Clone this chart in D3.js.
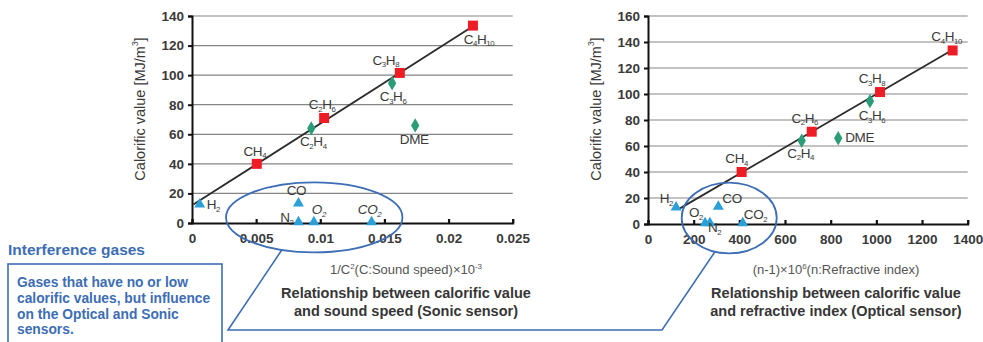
<!DOCTYPE html>
<html>
<head>
<meta charset="utf-8">
<script src="https://cdn.jsdelivr.net/npm/d3@7"></script>
<style>
  body { margin: 0; background: #fff; }
  svg { display: block; font-family: 'Liberation Sans', Arial, sans-serif; }
</style>
</head>
<body>
<svg id="chart" width="983" height="342"></svg>
<script>
// gases, in drawing order
const gasNames = ['CH4', 'C2H6', 'C3H8', 'C4H10', 'C2H4', 'C3H6', 'DME', 'H2', 'CO', 'N2', 'O2', 'CO2']
const gasKind = ['alkane', 'alkane', 'alkane', 'alkane', 'alkene', 'alkene', 'alkene', 'inert', 'inert', 'inert', 'inert', 'inert']
const calorificValue = [40, 71, 101.5, 133.5, 64, 94.5, 66, 12, 12.6, 0, 0, 0]
// 1/C^2 x 10^-3
const sonicX = [0.00505, 0.0103, 0.0162, 0.0219, 0.0093, 0.0156, 0.0174, 0.0006, 0.0083, 0.0083, 0.0095, 0.0140]
// (n-1) x 10^6
const opticalX = [410, 717, 1016, 1334, 673, 972, 833, 123, 308, 271, 250, 415]

const sonicFit = [[0.0001, 12.5], [0.0219, 133]]
const opticalFit = [[140, 12], [1334, 134]]

const sonicXTicks = [0, 0.005, 0.01, 0.015, 0.02, 0.025]
const sonicYTicks = [0, 20, 40, 60, 80, 100, 120, 140]
const opticalXTicks = [0, 200, 400, 600, 800, 1000, 1200, 1400]
const opticalYTicks = [0, 20, 40, 60, 80, 100, 120, 140, 160]

// interference-gas ellipses in data units: [cx, cy, rx, ry]
const sonicEllipse = [0.00953, 3.8, 0.006875, 23.7]
const opticalEllipse = [355.6, 4.6, 208, 27.2]

const boxTitle = 'Interference gases'
const boxLines = ['Gases that have no or low', 'calorific values, but influence', 'on the Optical and Sonic', 'sensors.']

const colors = { alkane: '#ee1c25', alkene: '#2a9d78', inert: '#2b9fd8' }
const blue = '#3d6db4'
const textCol = '#3a3a3a'
const labelSize = 13.5

const svg = d3.select('#chart')

// label placement: [dx, dy, anchor, italic]
const sonicLabelPos = {
  CH4: [-2, -12, 'middle'], C2H6: [-2, -13, 'middle'], C3H8: [-14, -12, 'middle'], C4H10: [6, 14, 'middle'],
  C2H4: [2, 14, 'middle'], C3H6: [1, 14, 'middle'], DME: [-1, 15, 'middle'], H2: [7, 0, 'start'],
  CO: [-2, -13, 'middle'], N2: [-5, -5, 'end'], O2: [-2, -13, 'start', true], CO2: [-2, -13, 'middle', true]
}
const opticalLabelPos = {
  CH4: [-5, -13, 'middle'], C2H6: [-7, -13, 'middle'], C3H8: [-8, -13, 'middle'], C4H10: [-6, -13, 'middle'],
  C2H4: [-1, 13, 'middle'], C3H6: [2, 15, 'middle'], DME: [7, 0, 'start'], H2: [-3, -9, 'end'],
  CO: [4, -9, 'start'], N2: [-2, 4, 'start'], O2: [-2, -11, 'end'], CO2: [1, -9, 'start']
}

function chemText(sel, name, size) {
  if (name === 'DME') { sel.text(name); return }
  let cur = 0
  name.match(/[A-Z][a-z]*|\d+/g).forEach(p => {
    const isNum = /\d/.test(p)
    const target = isNum ? 2.5 : 0
    sel.append('tspan').attr('font-size', isNum ? size * 0.58 : size).attr('dy', target - cur).text(p)
    cur = target
  })
}

function panel(cfg) {
  const x = d3.scaleLinear().domain(cfg.xDomain).range(cfg.xRange)
  const y = d3.scaleLinear().domain(cfg.yDomain).range(cfg.yRange)
  const g = svg.append('g')

  // gridlines
  g.append('g').selectAll('line').data(cfg.yTicks.filter(t => t > 0)).join('line')
    .attr('x1', cfg.xRange[0]).attr('x2', cfg.xRange[1])
    .attr('y1', d => y(d)).attr('y2', d => y(d))
    .attr('stroke', '#858585').attr('stroke-width', 1.2)

  // y axis
  const yAx = g.append('g').attr('transform', `translate(${cfg.xRange[0]},0)`)
    .call(d3.axisLeft(y).tickValues(cfg.yTicks).tickSize(4).tickPadding(4))
  yAx.attr('font-size', 13.5).attr('font-family', 'Liberation Sans, Arial, sans-serif')
  yAx.select('.domain').attr('stroke', '#111').attr('stroke-width', 2)
  yAx.selectAll('.tick line').attr('stroke', '#111').attr('stroke-width', 2)
  yAx.selectAll('text').attr('font-size', 13.5).attr('font-weight', 'bold').attr('fill', textCol)

  // x axis, ticks point up
  const xAx = g.append('g').attr('transform', `translate(0,${cfg.yRange[0]})`)
    .call(d3.axisBottom(x).tickValues(cfg.xTicks).tickSize(-4).tickPadding(10).tickFormat(cfg.xFormat))
  xAx.attr('font-size', 13.5).attr('font-family', 'Liberation Sans, Arial, sans-serif')
  xAx.select('.domain').attr('stroke', '#111').attr('stroke-width', 2)
  xAx.selectAll('.tick line').attr('stroke', '#111').attr('stroke-width', 2.2)
  xAx.selectAll('text').attr('font-size', 13.5).attr('font-weight', 'bold').attr('fill', textCol)

  // fit line
  g.append('line')
    .attr('x1', x(cfg.fit[0][0])).attr('y1', y(cfg.fit[0][1]))
    .attr('x2', x(cfg.fit[1][0])).attr('y2', y(cfg.fit[1][1]))
    .attr('stroke', '#2b2b2b').attr('stroke-width', 1.8)

  // markers
  const pts = gasNames.map((n, i) => ({ name: n, kind: gasKind[i], x: cfg.xs[i], y: calorificValue[i] }))
  const sym = { alkane: d3.symbolSquare, alkene: d3.symbolDiamond, inert: d3.symbolTriangle }
  const area = { alkane: 100, alkene: 60, inert: 52 }
  g.append('g').selectAll('path').data(pts).join('path')
    .attr('transform', d => `translate(${x(d.x)},${y(d.y) - (d.kind === 'inert' ? 1 : 0)})`)
    .attr('d', d => d3.symbol(sym[d.kind], area[d.kind])())
    .attr('fill', d => colors[d.kind])

  // point labels
  pts.forEach(d => {
    const p = cfg.labels[d.name]
    const t = g.append('text')
      .attr('x', x(d.x) + p[0]).attr('y', y(d.y) + p[1] + 4)
      .attr('text-anchor', p[2]).attr('fill', textCol)
      .attr('font-size', labelSize)
      .attr('font-style', p[3] ? 'italic' : 'normal')
      .attr('letter-spacing', -0.4)
    chemText(t, d.name, labelSize)
  })

  // ellipse
  const e = cfg.ellipse
  const ecx = x(e[0]), ecy = y(e[1]), erx = x(e[0] + e[2]) - x(e[0]), ery = y(e[1]) - y(e[1] + e[3])
  g.append('ellipse').attr('cx', ecx).attr('cy', ecy).attr('rx', erx).attr('ry', ery)
    .attr('fill', 'none').attr('stroke', blue).attr('stroke-width', 1.8)

  // y axis title
  g.append('text')
    .attr('transform', `translate(${cfg.yTitleX},109) rotate(-90)`)
    .attr('text-anchor', 'middle').attr('dominant-baseline', 'central')
    .attr('font-size', 14.5).attr('fill', textCol)
    .call(t => {
      t.append('tspan').attr('font-size', 14.5).text('Calorific value [MJ/m')
      t.append('tspan').attr('font-size', 8.5).attr('dy', -5).text('3')
      t.append('tspan').attr('font-size', 14.5).attr('dy', 5).text(']')
    })

  // x axis title
  g.append('text').attr('x', cfg.titleX).attr('y', 274).attr('text-anchor', 'middle')
    .attr('font-size', 13).attr('fill', '#555')
    .call(t => cfg.xTitle.forEach(s => {
      t.append('tspan').attr('font-size', s[1] ? 8 : 13).attr('dy', s[1] ? -5 : (s[2] ? 5 : 0)).text(s[0])
    }))

  cfg.caption.forEach((line, i) => {
    g.append('text').attr('x', cfg.titleX).attr('y', 298 + i * 18).attr('text-anchor', 'middle')
      .attr('font-size', 14.5).attr('font-weight', 'bold').attr('fill', '#363636').text(line)
  })

  // point on the ellipse's lower-left arc for the callout
  const ang = cfg.calloutAngle
  return [ecx + erx * Math.cos(ang), ecy + ery * Math.sin(ang)]
}

const leftAnchor = panel({
  xDomain: [0, 0.025], xRange: [192, 512.7], yDomain: [0, 140], yRange: [223, 16],
  xTicks: sonicXTicks, yTicks: sonicYTicks, xFormat: d => d === 0 ? '0' : String(+d.toFixed(3)),
  xs: sonicX, fit: sonicFit, labels: sonicLabelPos, ellipse: sonicEllipse, yTitleX: 140,
  xTitle: [['1/C'], ['2', true], ['(C:Sound speed)×10', false, true], ['-3', true]],
  caption: ['Relationship between calorific value', 'and sound speed (Sonic sensor)'],
  titleX: 406, calloutAngle: Math.PI * 0.62
})

const rightAnchor = panel({
  xDomain: [0, 1400], xRange: [648, 967.7], yDomain: [0, 160], yRange: [224, 16],
  xTicks: opticalXTicks, yTicks: opticalYTicks, xFormat: d3.format('d'),
  xs: opticalX, fit: opticalFit, labels: opticalLabelPos, ellipse: opticalEllipse, yTitleX: 596,
  xTitle: [['(n-1)×10'], ['6', true], ['(n:Refractive index)', false, true]],
  caption: ['Relationship between calorific value', 'and refractive index (Optical sensor)'],
  titleX: 836, calloutAngle: Math.PI * 0.597
})

// callout box and connector
svg.append('polyline')
  .attr('points', [leftAnchor, [228, 330], [662, 330], rightAnchor].map(p => p.join(',')).join(' '))
  .attr('fill', 'none').attr('stroke', blue).attr('stroke-width', 1.6)

svg.append('text').attr('x', 8).attr('y', 255).attr('font-size', 15.5).attr('font-weight', 'bold')
  .attr('fill', blue).text(boxTitle)
svg.append('rect').attr('x', 8).attr('y', 264).attr('width', 214).attr('height', 90)
  .attr('fill', '#fff').attr('stroke', blue).attr('stroke-width', 1.6)
boxLines.forEach((l, i) => {
  svg.append('text').attr('x', 17).attr('y', 287 + i * 15.8).attr('font-size', 13.8).attr('font-weight', 'bold')
    .attr('fill', blue).text(l)
})
</script>
</body>
</html>
